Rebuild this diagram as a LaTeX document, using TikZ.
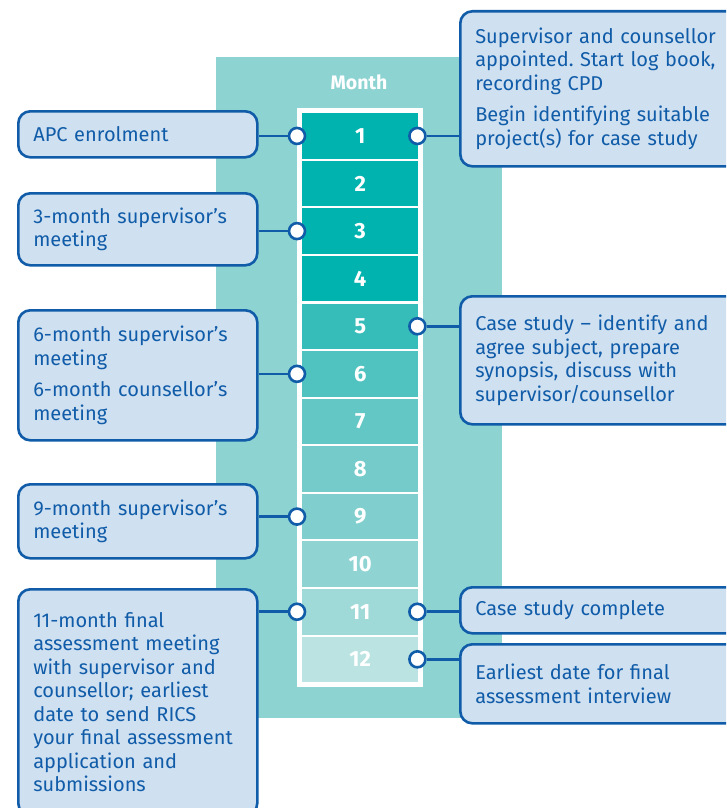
\documentclass[tikz,border=0pt]{standalone}
\usepackage{fontspec}
\setmainfont{Fira Sans}
\usetikzlibrary{positioning}
\frenchspacing

\definecolor{noteblue}{HTML}{105CA8}
\definecolor{notefill}{HTML}{CFE0F1}
\definecolor{panelteal}{HTML}{8DD3D2}
\definecolor{month1}{HTML}{00B3AE}
\definecolor{month2}{HTML}{00B3AE}
\definecolor{month3}{HTML}{00B3AE}
\definecolor{month4}{HTML}{00B3AE}
\definecolor{month5}{HTML}{36BDBA}
\definecolor{month6}{HTML}{50C3C1}
\definecolor{month7}{HTML}{63C7C5}
\definecolor{month8}{HTML}{74CBCA}
\definecolor{month9}{HTML}{80CFCE}
\definecolor{month10}{HTML}{8FD3D2}
\definecolor{month11}{HTML}{9FD9D8}
\definecolor{month12}{HTML}{BAE3E2}

\begin{document}
\begin{tikzpicture}[
  x=1pt, y=-1pt,
  every node/.style={font=\fontsize{20}{23.5}\selectfont},
  note/.style={draw=noteblue, line width=2.6pt, fill=notefill,
    rounded corners=12pt, text=noteblue, align=left,
    inner xsep=15pt, inner ysep=0pt, anchor=north west},
  leftnote/.style={note, text width=209pt},
  rightnote/.style={note, text width=264pt},
  cell/.style={fill=month#1, minimum width=116pt, minimum height=45.5pt,
    inner sep=0pt, text=white, anchor=north west,
    font=\fontsize{22}{22}\selectfont\bfseries},
  pin/.style={circle, draw=noteblue, fill=white, line width=2.6pt,
    minimum size=16pt, inner sep=0pt},
  link/.style={noteblue, line width=2.6pt},
]

\useasboundingbox (0,0) rectangle (726,808);
\clip (0,0) rectangle (726,808);

% ================================================================
% Month column
% ================================================================
\fill[panelteal] (216,57) rectangle (502,718);
\node[text=white, font=\fontsize{19.5}{19.5}\selectfont\bfseries] (monthlabel) at (359,82) {Month};
\fill[white] (297,108) rectangle (423,687);

\foreach \i in {1,...,12}
  \node[cell=\i] (m\i) at (302,{113+47.58*(\i-1)}) {\i};

% ================================================================
% Notes, left side
% ================================================================
\node[leftnote, minimum height=46pt]  (apc)   at (17,110) {APC enrolment};
\node[leftnote, minimum height=72pt]  (three) at (17,192) {3-month supervisor’s\\meeting};
\node[leftnote, minimum height=130pt] (six)   at (17,309)
  {6-month supervisor’s\\meeting\\[8pt]6-month counsellor’s\\meeting};
\node[leftnote, minimum height=74pt]  (nine)  at (17,483) {9-month supervisor’s\\meeting};
\node[leftnote, minimum height=226pt] (eleven) at (17,588)
  {11-month final\\assessment meeting\\with supervisor and\\counsellor; earliest\\date to send RICS\\your final assessment\\application and\\submissions};

% ================================================================
% Notes, right side
% ================================================================
\node[rightnote, minimum height=155pt] (start) at (459,10)
  {Supervisor and counsellor\\appointed. Start log book,\\recording CPD\\[8pt]Begin identifying suitable\\project(s) for case study};
\node[rightnote, minimum height=128pt] (casestudy) at (459,295)
  {Case study – identify and\\agree subject, prepare\\synopsis, discuss with\\supervisor/counsellor};
\node[rightnote, minimum height=46pt] (complete) at (459,586) {Case study complete};
\node[rightnote, minimum height=79pt] (interview) at (459,643)
  {Earliest date for final\\assessment interview};

% ================================================================
% Pins and links
% ================================================================
\foreach \i/\nt in {1/apc, 3/three, 6/six, 9/nine, 11/eleven} {
  \node[pin] (lp\i) at ([xshift=-5pt]m\i.west) {};
  \draw[link] (lp\i) -- (lp\i -| \nt.east);
}
\foreach \i/\nt in {1/start, 5/casestudy, 11/complete, 12/interview} {
  \node[pin] (rp\i) at ([xshift=-1pt]m\i.east) {};
  \draw[link] (rp\i) -- (rp\i -| \nt.west);
}

\end{tikzpicture}
\end{document}
